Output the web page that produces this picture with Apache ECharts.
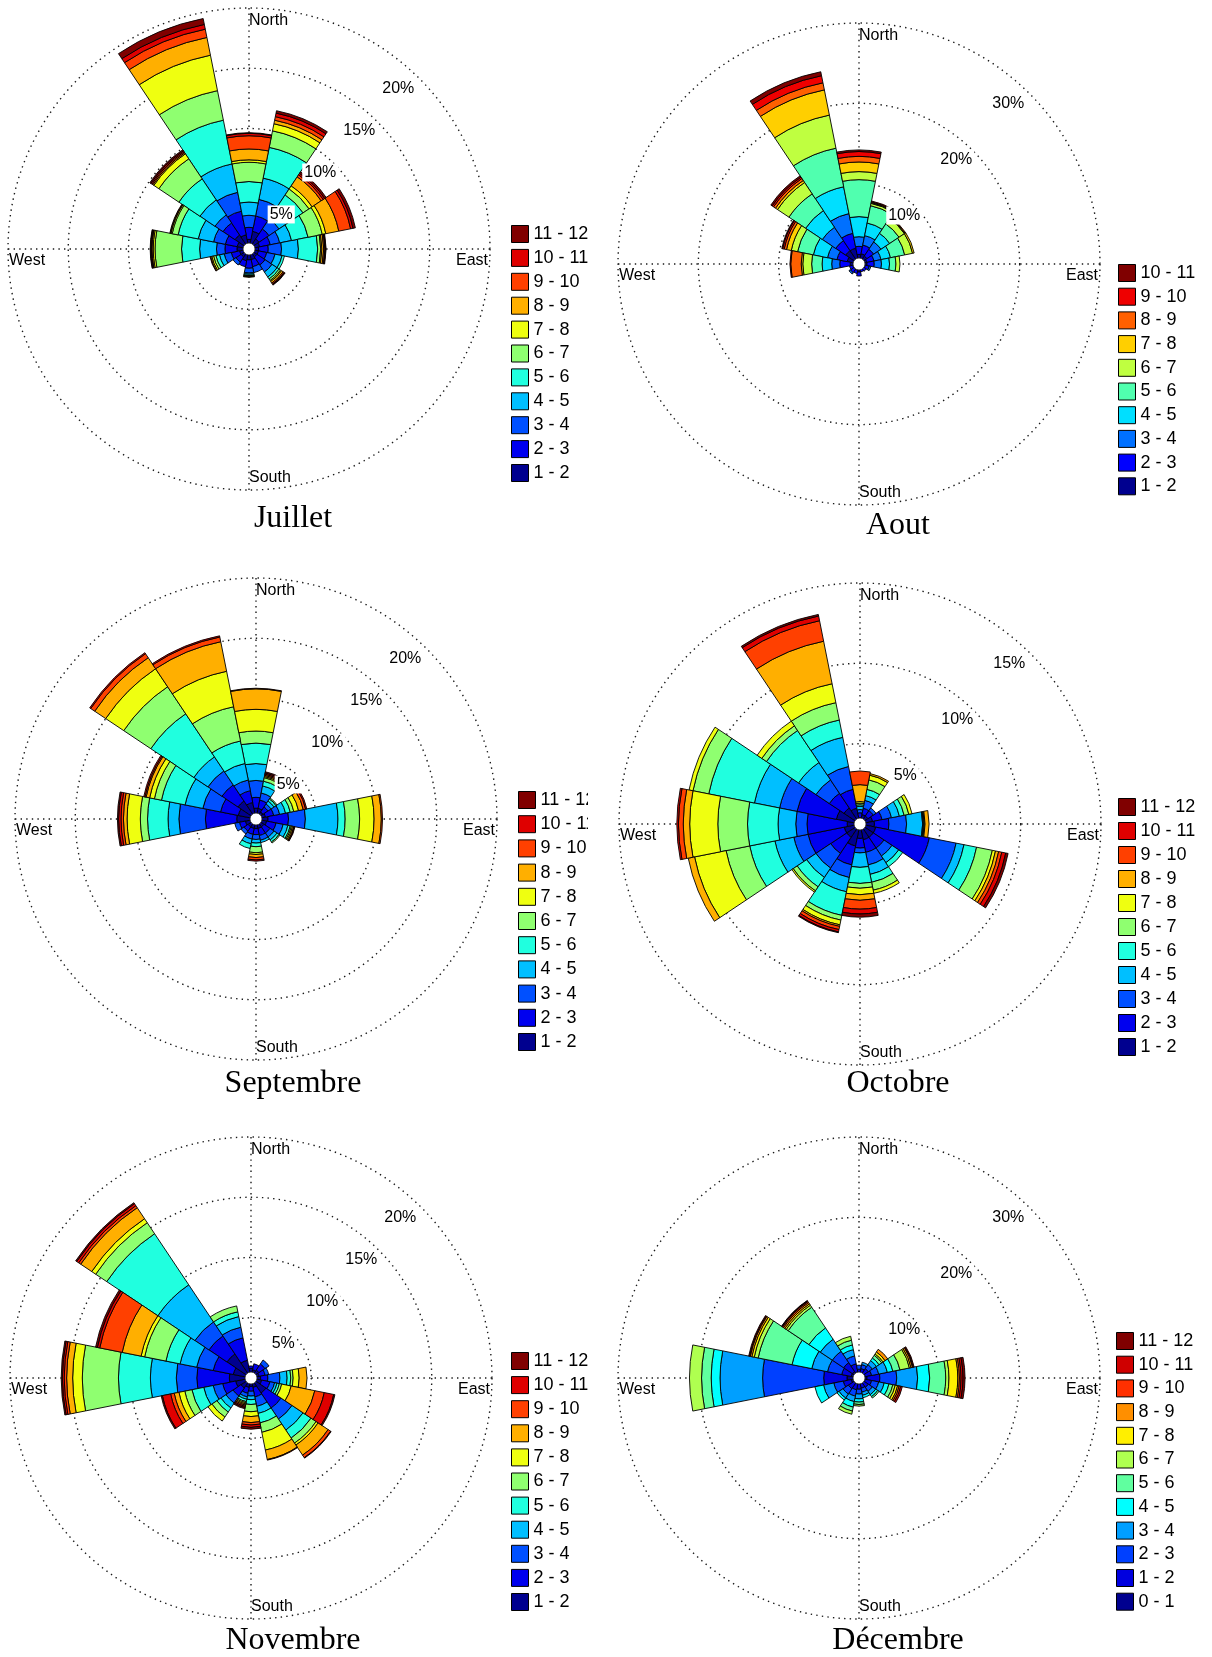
<!DOCTYPE html>
<html>
<head>
<meta charset="utf-8">
<title>Roses des vents mensuelles</title>
<script src="https://cdn.jsdelivr.net/npm/echarts@6/dist/echarts.min.js"></script>
<style>
  html, body { margin: 0; padding: 0; background: #fff; }
  #chart { width: 1212px; height: 1657px; }
</style>
</head>
<body>
<div id="chart"></div>
<script>
// Sixteen compass sectors, clockwise from north
const directions = ['N', 'NNE', 'NE', 'ENE', 'E', 'ESE', 'SE', 'SSE',
                    'S', 'SSW', 'SW', 'WSW', 'W', 'WNW', 'NW', 'NNW'];

// Wind speed classes (m/s)
const speedBins1to12 = ['1 - 2', '2 - 3', '3 - 4', '4 - 5', '5 - 6', '6 - 7',
                        '7 - 8', '8 - 9', '9 - 10', '10 - 11', '11 - 12'];
const speedBins1to11 = ['1 - 2', '2 - 3', '3 - 4', '4 - 5', '5 - 6', '6 - 7',
                        '7 - 8', '8 - 9', '9 - 10', '10 - 11'];
const speedBins0to12 = ['0 - 1', '1 - 2', '2 - 3', '3 - 4', '4 - 5', '5 - 6', '6 - 7',
                        '7 - 8', '8 - 9', '9 - 10', '10 - 11', '11 - 12'];

// Frequency (% of records) per sector: one row per direction (N ... NNW),
// one column per speed class; classes absent at the end of a row were not observed.
const juillet = [
  [0.8, 1.0, 1.0, 1.1, 1.7, 1.6, 0.2, 0.9, 1.1, 0.2, 0.05],
  [1.5, 1.3, 1.4, 1.8, 2.6, 1.4, 0.6, 0.3, 0.3, 0.3, 0.2],
  [1.0, 1.0, 1.0, 1.2, 1.2, 0.6, 0.3, 0.9, 0.2, 0.15, 0.15],
  [0.9, 0.9, 0.8, 1.0, 1.4, 1.2, 0.3, 1.1, 1.0, 0.2, 0.2],
  [0.8, 0.8, 1.1, 1.4, 1.6, 0.25, 0.1, 0.15, 0.1, 0.05, 0.05],
  [0.8, 0.7, 0.7, 0.6, 0.2],
  [0.8, 0.8, 0.7, 0.5, 0.2, 0.15, 0.1, 0.15, 0.1, 0.05, 0.05],
  [0.9, 0.6, 0.5],
  [0.9, 0.7, 0.4, 0.1, 0.1, 0.05, 0.05, 0.05],
  [1.0, 0.5],
  [0.8, 0.5, 0.3],
  [0.8, 0.7, 0.6, 0.4, 0.3, 0.2, 0.15, 0.1, 0.05],
  [1.0, 1.0, 0.7, 1.4, 1.5, 2.2, 0.15, 0.1, 0.05, 0.05, 0.05],
  [1.0, 1.0, 1.0, 1.3, 1.7, 0.5, 0.1, 0.05, 0.05],
  [1.4, 1.2, 0.8, 1.5, 2.1, 2.0, 0.5, 0.1, 0.1, 0.1, 0.1],
  [1.2, 2.0, 1.6, 2.4, 3.7, 2.5, 3.0, 1.5, 0.7, 0.4, 0.5]
];

const aout = [
  [1.2, 1.0, 1.2, 2.5, 4.6, 1.0, 1.2, 0.7, 0.6, 0.2],
  [1.3, 1.1, 1.2, 1.6, 2.2, 0.3, 0.1, 0.1, 0.1],
  [1.2, 1.0, 1.1, 1.3, 1.4, 0.8, 0.1, 0.1],
  [1.0, 0.9, 0.9, 1.2, 1.8, 1.0, 0.2],
  [1.0, 0.9, 0.9, 1.0, 0.8, 0.5],
  [0.8, 0.5, 0.2],
  [0.7, 0.4],
  [0.6, 0.4],
  [1.0, 0.5],
  [0.8, 0.4],
  [0.8, 0.5, 0.2],
  [0.8, 0.4],
  [1.1, 1.3, 1.0, 1.2, 1.3, 1.1, 0.2, 1.3, 0.1],
  [1.5, 1.3, 1.2, 1.8, 2.0, 0.8, 0.6, 0.3, 0.2, 0.1],
  [2.0, 1.5, 2.0, 2.5, 2.5, 1.7, 0.3, 0.3, 0.2, 0.2],
  [2.0, 1.9, 2.5, 3.4, 4.9, 4.2, 3.2, 0.9, 0.9, 0.5]
];

const septembre = [
  [0.9, 0.9, 1.4, 1.4, 1.7, 1.0, 1.8, 1.7, 0.05],
  [0.9, 0.7, 0.6, 0.6, 0.4, 0.3, 0.1, 0.1, 0.1, 0.1, 0.1],
  [0.7, 0.5, 0.3, 0.3, 0.2, 0.1],
  [0.8, 0.7, 0.5, 0.5, 0.4, 0.3, 0.4, 0.4, 0.2, 0.1],
  [1.0, 1.7, 1.4, 2.7, 0.6, 1.2, 1.2, 0.6, 0.1],
  [0.9, 0.8, 0.6, 0.4, 0.2, 0.1, 0.1, 0.1, 0.05, 0.05],
  [0.8, 0.6, 0.4, 0.3, 0.2, 0.1],
  [0.8, 0.6, 0.4, 0.2],
  [0.8, 0.5, 0.4, 0.3, 0.3, 0.5, 0.15, 0.25, 0.2, 0.1],
  [0.8, 0.5, 0.4, 0.4, 0.4],
  [0.8, 0.4, 0.3],
  [0.9, 0.5, 0.4],
  [1.6, 2.6, 2.2, 0.9, 1.7, 0.6, 1.1, 0.3, 0.2, 0.2, 0.1],
  [1.5, 1.5, 1.5, 1.5, 2.0, 0.6, 0.4, 0.3, 0.1, 0.1],
  [1.8, 1.6, 1.4, 1.4, 4.3, 2.7, 1.8, 1.1, 0.4, 0.1],
  [1.4, 1.0, 0.9, 1.4, 1.9, 2.9, 3.0, 2.5, 0.4, 0.1]
];

const octobre = [
  [0.4, 0.3, 0.2, 0.2, 0.1, 0.1, 0.1, 1.05, 0.85],
  [0.6, 0.4, 0.5, 0.3, 0.4, 0.6, 0.3, 0.1],
  [0.6, 0.4, 0.2],
  [0.8, 0.6, 0.6, 0.5, 0.3, 0.3, 0.2],
  [0.9, 0.9, 1.1, 1.0, 0.05, 0.05, 0.05, 0.25],
  [1.0, 3.4, 1.7, 0.5, 0.8, 1.0, 0.2, 0.2, 0.2, 0.25, 0.15],
  [1.0, 0.8, 0.6, 0.5, 0.3],
  [1.0, 0.8, 0.8, 0.6, 0.5, 0.5, 0.2],
  [0.9, 0.6, 0.3, 0.9, 1.0, 0.3, 0.4, 0.35, 0.55, 0.3, 0.2],
  [1.4, 1.2, 0.8, 0.9, 1.5, 0.3, 0.3, 0.1, 0.2, 0.15, 0.05],
  [1.0, 1.2, 1.1, 0.7, 0.7, 0.3, 0.1],
  [1.0, 2.3, 0.9, 1.2, 1.6, 1.5, 2.0, 0.4],
  [0.8, 2.5, 0.7, 1.1, 1.9, 1.85, 1.75, 0.4, 0.3, 0.1],
  [1.5, 2.5, 1.1, 1.6, 2.9, 1.0, 0.25],
  [1.2, 1.1, 1.0, 1.3, 2.4, 0.35, 0.35],
  [1.0, 1.2, 1.45, 1.85, 1.1, 1.1, 1.2, 2.7, 1.3, 0.3, 0.1]
];

const novembre = [
  [0.8, 0.2],
  [0.7, 0.5],
  [0.8, 0.6, 0.4],
  [0.7, 0.5, 0.3],
  [0.8, 0.6, 1.0, 0.6, 0.3, 0.2, 0.5, 0.65],
  [0.9, 0.7, 0.4, 0.2, 0.2, 0.2, 0.8, 2.0, 0.8, 0.8, 0.1],
  [1.5, 1.5, 1.1, 1.1, 0.8, 0.5, 0.2, 1.0, 0.25, 0.05],
  [0.8, 0.8, 0.8, 0.6, 0.8, 0.8, 1.5, 0.8, 0.05],
  [0.7, 0.4, 0.4, 0.3, 0.4, 0.6, 0.4, 0.5, 0.2, 0.2, 0.15],
  [0.8, 0.5, 0.3, 0.2, 0.2, 0.1, 0.1, 0.1, 0.1, 0.1, 0.1],
  [1.0, 0.8, 0.7, 0.5, 0.4, 0.5, 0.4],
  [1.3, 1.1, 0.8, 0.8, 1.0, 0.6, 0.5, 0.4, 0.3, 0.7, 0.1],
  [1.8, 2.7, 1.7, 2.15, 2.65, 3.0, 0.8, 0.5, 0.2, 0.15, 0.1],
  [1.5, 1.7, 1.4, 1.4, 1.2, 1.8, 0.3, 1.6, 1.9, 0.2, 0.15],
  [2.4, 1.8, 1.4, 3.7, 5.1, 1.1, 0.4, 1.1, 0.2, 0.2, 0.1],
  [1.5, 1.9, 0.9, 0.9, 0.4, 0.5]
];

const decembre = [
  [0.6, 0.5, 0.5],
  [0.6, 0.6, 0.5, 0.3],
  [0.7, 0.7, 0.6, 0.6, 0.4, 0.4, 0.2, 0.3, 0.4],
  [0.8, 0.8, 0.9, 1.1, 0.7, 0.9, 1.2, 0.2, 0.2, 0.1, 0.1],
  [1.0, 1.6, 2.1, 2.6, 1.5, 2.0, 0.4, 1.1, 0.2, 0.2, 0.25, 0.25],
  [0.8, 0.8, 0.9, 0.7, 0.6, 0.5, 0.3, 0.3, 0.2, 0.2, 0.2],
  [0.7, 0.7, 0.6, 0.5, 0.3, 0.2],
  [0.7, 0.6, 0.5, 0.4, 0.3],
  [0.7, 0.7, 0.6, 0.6, 0.4, 0.3, 0.2],
  [0.7, 0.8, 0.8, 0.7, 0.7, 0.5, 0.4],
  [0.8, 0.8, 0.8, 0.6, 0.3],
  [1.0, 1.0, 1.2, 1.3, 1.1],
  [1.5, 2.9, 7.6, 5.3, 1.1, 1.2, 1.5],
  [1.0, 1.2, 1.8, 2.0, 2.5, 4.3, 0.5, 0.3, 0.2, 0.1, 0.1],
  [1.0, 1.3, 1.7, 1.8, 1.7, 3.1, 0.3, 0.2, 0.2, 0.15, 0.1, 0.05],
  [0.8, 1.0, 1.0, 0.8, 0.6, 0.6, 0.5]
];

// Layout of the six roses (pixels) and their percentage rings
const R = 241;
const panels = [
  { title: 'Juillet',   freq: juillet,   bins: speedBins1to12, max: 20, step: 5,  cx: 249, cy: 249,  tx: 293, ty: 519,  legendLeft: 511,  legendTop: 225,  pitch: 23.9 },
  { title: 'Aout',      freq: aout,      bins: speedBins1to11, max: 30, step: 10, cx: 859, cy: 264,  tx: 898, ty: 526,  legendLeft: 1118, legendTop: 264,  pitch: 23.7 },
  { title: 'Septembre', freq: septembre, bins: speedBins1to12, max: 20, step: 5,  cx: 256, cy: 819,  tx: 293, ty: 1084, legendLeft: 518,  legendTop: 791,  pitch: 24.2 },
  { title: 'Octobre',   freq: octobre,   bins: speedBins1to12, max: 15, step: 5,  cx: 860, cy: 824,  tx: 898, ty: 1084, legendLeft: 1118, legendTop: 798,  pitch: 24.0 },
  { title: 'Novembre',  freq: novembre,  bins: speedBins1to12, max: 20, step: 5,  cx: 251, cy: 1378, tx: 293, ty: 1641, legendLeft: 511,  legendTop: 1352, pitch: 24.1 },
  { title: 'Décembre',  freq: decembre,  bins: speedBins0to12, max: 30, step: 10, cx: 859, cy: 1378, tx: 898, ty: 1641, legendLeft: 1116, legendTop: 1332, pitch: 23.7 }
];

// MATLAB-style 64-step jet colour map
function jet64(i) {
  const c = v => Math.max(0, Math.min(1, v));
  let r = 0, g = 0, b = 0;
  if (i >= 25 && i <= 40) r = (i - 24) / 16; else if (i > 40 && i <= 56) r = 1; else if (i > 56) r = (72 - i) / 16;
  if (i >= 9 && i <= 24) g = (i - 8) / 16; else if (i > 24 && i <= 40) g = 1; else if (i > 40) g = (56 - i) / 16;
  if (i <= 8) b = (i + 8) / 16; else if (i <= 24) b = 1; else if (i <= 40) b = (40 - i) / 16;
  const h = v => Math.round(c(v) * 255);
  return 'rgb(' + h(r) + ',' + h(g) + ',' + h(b) + ')';
}
function classColors(n) {
  const out = [];
  for (let k = 0; k < n; k++) out.push(jet64(Math.min(64, Math.floor(k / (n - 1) * 64) + 1)));
  return out;
}

const dotted = { color: '#1a1a1a', width: 1.4, type: [1.4, 4.2] };
const sansFont = '"Liberation Sans", Arial, sans-serif';

const polar = [], angleAxis = [], radiusAxis = [], series = [], legend = [], graphic = [];

panels.forEach((p, i) => {
  const gridIdx = 2 * i, barIdx = 2 * i + 1;
  polar.push({ center: [p.cx, p.cy], radius: R });
  polar.push({ center: [p.cx, p.cy], radius: R });

  // dotted compass cross and percentage rings
  angleAxis.push({
    polarIndex: gridIdx, type: 'value', min: 0, max: 360, interval: 90, startAngle: 90,
    axisLine: { show: false }, axisTick: { show: false }, axisLabel: { show: false },
    splitLine: { show: true, lineStyle: dotted }
  });
  radiusAxis.push({
    polarIndex: gridIdx, type: 'value', min: 0, max: p.max, interval: p.step,
    axisLine: { show: false }, axisTick: { show: false }, axisLabel: { show: false },
    splitLine: { show: true, lineStyle: dotted }
  });

  // sectors: north centred at the top, running clockwise
  angleAxis.push({
    polarIndex: barIdx, type: 'category', data: directions, startAngle: 90 + 360 / 32,
    axisLine: { show: false }, axisTick: { show: false }, axisLabel: { show: false }, splitLine: { show: false }
  });
  radiusAxis.push({
    polarIndex: barIdx, type: 'value', min: 0, max: p.max,
    axisLine: { show: false }, axisTick: { show: false }, axisLabel: { show: false }, splitLine: { show: false }
  });

  const colors = classColors(p.bins.length);
  const names = p.bins.map(b => p.title + ' ' + b);
  p.bins.forEach((b, k) => {
    series.push({
      type: 'bar', coordinateSystem: 'polar', polarIndex: barIdx,
      name: names[k], stack: p.title, barCategoryGap: '0%', silent: true,
      itemStyle: { color: colors[k], borderColor: '#000', borderWidth: 0.9 },
      data: p.freq.map(row => (row[k] === undefined ? null : row[k]))
    });
  });

  legend.push({
    data: names.slice().reverse(), orient: 'vertical', left: p.legendLeft, top: p.legendTop,
    itemWidth: 17, itemHeight: 17, itemGap: p.pitch - 18, padding: 0, icon: 'rect',
    selectedMode: false,
    formatter: n => n.slice(n.indexOf(' ') + 1),
    itemStyle: { borderColor: '#000', borderWidth: 1 },
    textStyle: { fontFamily: sansFont, fontSize: 18, color: '#000', lineHeight: 17 }
  });

  // compass names just inside the outer ring
  const txt = (text, x, y, align, valign, extra) => Object.assign({
    type: 'text', z: 100, x: x, y: y,
    style: Object.assign({ text: text, fill: '#000', font: '16px ' + sansFont,
      textAlign: align, textVerticalAlign: valign, align: align, verticalAlign: valign }, extra || {})
  });
  graphic.push(txt('North', p.cx, p.cy - R + 13, 'left', 'middle'));
  graphic.push(txt('South', p.cx, p.cy + R - 12, 'left', 'middle'));
  graphic.push(txt('East', p.cx + R - 2, p.cy + 12, 'right', 'middle'));
  graphic.push(txt('West', p.cx - R + 1, p.cy + 12, 'left', 'middle'));

  // ring values on a white patch
  const ang = 47 * Math.PI / 180;
  for (let v = p.step; v <= p.max; v += p.step) {
    const rr = R * v / p.max * 0.95 - 10;
    graphic.push(txt(v + '%', p.cx + rr * Math.cos(ang), p.cy - rr * Math.sin(ang), 'center', 'middle',
      { backgroundColor: '#fff', textBackgroundColor: '#fff', padding: [1, 2], textPadding: [1, 2] }));
  }

  // calm hole at the centre
  graphic.push({ type: 'circle', z: 90, shape: { cx: p.cx, cy: p.cy, r: 6 },
    style: { fill: '#fff', stroke: '#222', lineWidth: 0.8 } });

  // month caption
  graphic.push({ type: 'text', z: 100, x: p.tx, y: p.ty,
    style: { text: p.title, fill: '#000', font: '32px "Liberation Serif", "Times New Roman", serif',
      textAlign: 'center', textVerticalAlign: 'middle', align: 'center', verticalAlign: 'middle' } });
});

// the September legend column is trimmed at the panel's right edge
graphic.push({ type: 'rect', z: 200, shape: { x: 588, y: 780, width: 18, height: 290 },
  style: { fill: '#fff' } });

const chart = echarts.init(document.getElementById('chart'), null, { renderer: 'canvas' });
chart.setOption({
  backgroundColor: '#fff',
  animation: false,
  polar: polar,
  angleAxis: angleAxis,
  radiusAxis: radiusAxis,
  legend: legend,
  series: series,
  graphic: graphic
});
</script>
</body>
</html>
